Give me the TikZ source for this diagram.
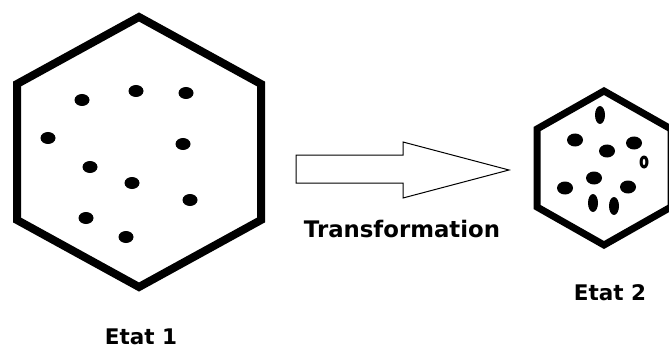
\documentclass[tikz,border=0pt]{standalone}
\usepackage{fontspec}
\newfontfamily\lblfont{DejaVu Sans Bold}
\begin{document}
\begin{tikzpicture}[x=1pt,y=-1pt,
  hexline/.style={line width=8pt,line join=miter},
  dotfill/.style={fill=black},
  lbl/.style={font=\lblfont\fontsize{21.5}{24}\selectfont,inner sep=0pt,text=black}]
\useasboundingbox (0,0) rectangle (669,350);
% big hexagon
\draw[hexline] (139,17) -- (261,84) -- (261,220) -- (139,287) -- (17,220) -- (17,84) -- cycle;
\foreach \x/\y in {82/100,136/91,186/93,48/138,183/144,90/167,132/183,190/200,86/218,126/237}
  \fill[dotfill] (\x,\y) ellipse [x radius=7.5,y radius=6];
% arrow
\draw[line width=1pt,line join=miter] (296,155) -- (403,155) -- (403,142) -- (509,170) -- (403,198) -- (403,183) -- (296,183) -- cycle;
% small hexagon
\draw[line width=7pt,line join=miter] (604,91) -- (671,129) -- (671,207) -- (604,245) -- (537,207) -- (537,129) -- cycle;
\foreach \x/\y in {575/140,607/151,634/143,594/178,565/188,628/187}
  \fill[dotfill] (\x,\y) ellipse [x radius=8,y radius=6.5];
\foreach \x/\y in {600/115,593/203,614/206}
  \fill[dotfill] (\x,\y) ellipse [x radius=5,y radius=9];
\fill[dotfill] (644,162) ellipse [x radius=4.5,y radius=6.5];
\fill[white] (644,162) ellipse [x radius=1.3,y radius=3.2];
% labels
\node[lbl,font=\lblfont\fontsize{22.8}{25}\selectfont] (trans) at (402,229) {Transformation};
\node[lbl] (etat1) at (141,337) {Etat 1};
\node[lbl] (etat2) at (610,293) {Etat 2};
\end{tikzpicture}
\end{document}
